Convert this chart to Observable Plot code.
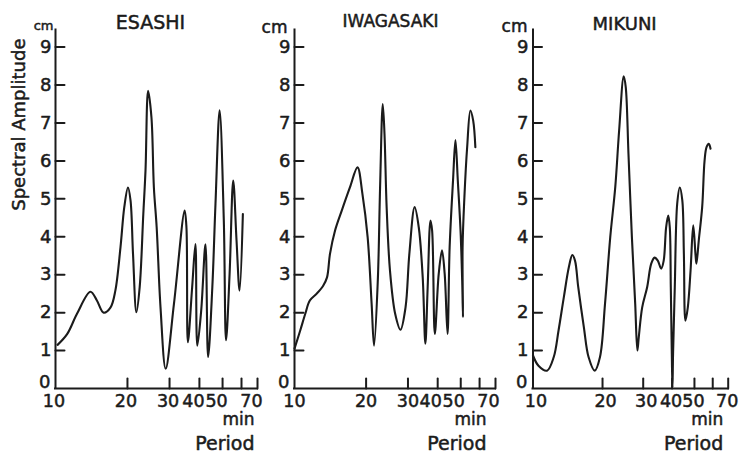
<!DOCTYPE html>
<html><head><meta charset="utf-8">
<script src="https://cdn.jsdelivr.net/npm/d3@7"></script>
<script src="https://cdn.jsdelivr.net/npm/@observablehq/plot@0.6"></script>
<style>
html,body{margin:0;padding:0;background:#fff;}
#chart{position:relative;width:739px;height:454px;overflow:hidden;background:#fff;}
#chart svg{position:absolute;top:0;}
</style></head><body><div id="chart"></div>
<script>
// ---- data (period in min, spectral amplitude in cm) ----
const stations = ["ESASHI", "IWAGASAKI", "MIKUNI"];

const esashiPeriod = [10.2,11.2,12.3,14.0,14.9,15.9,17.0,17.8,18.7,19.4,20.1,20.6,21.1,21.8,22.5,23.3,23.8,24.4,25.2,25.8,26.5,27.5,28.9,31.3,34.7,35.3,35.8,37.3,38.5,39.2,40.7,42.4,43.5,45.3,46.7,48.6,50.6,51.7,53.5,55.4,57.2,58.9,60.8];
const esashiAmp    = [1.15,1.44,1.97,2.55,2.32,2.0,2.14,2.58,3.72,4.78,5.3,4.96,3.55,2.01,2.67,4.6,5.75,7.85,7.15,5.3,4.25,2.14,0.52,2.23,4.69,4.25,1.22,2.67,3.81,1.13,2.06,3.8,0.83,2.67,4.87,7.33,4.43,1.27,3.02,5.48,3.9,2.58,4.6];

const iwagasakiPeriod = [10.0,10.57,11.1,11.6,12.4,13.2,13.7,14.1,14.8,15.8,17.1,18.4,19.3,20.3,21.1,21.6,22.4,22.9,23.5,23.9,24.4,25.2,26.5,27.9,29.3,30.4,32.0,33.3,34.6,35.5,36.3,37.3,37.9,38.9,40.4,41.7,42.8,44.0,44.9,46.4,47.5,48.6,49.9,50.7,51.1,50.9,51.8,53.2,54.9,56.4,57.6];
const iwagasakiAmp    = [1.05,1.53,1.97,2.32,2.5,2.71,2.93,3.55,4.16,4.69,5.3,5.83,5.13,3.99,2.23,1.13,2.85,5.3,7.5,6.71,4.78,3.11,1.97,1.55,2.14,3.55,4.78,4.25,2.93,1.18,2.67,4.43,4.16,1.44,3.02,3.64,3.02,1.44,3.72,5.48,6.55,5.48,4.16,2.85,1.88,3.72,5.04,6.36,7.33,7.06,6.36];

const mikuniPeriod = [10.0,10.56,11.5,12.3,12.9,13.6,14.3,14.8,15.2,15.7,16.6,17.4,18.5,19.5,20.5,21.6,22.7,23.6,24.7,25.2,25.9,26.8,27.7,28.3,28.7,29.7,31.2,32.5,33.6,34.7,35.9,36.8,37.7,38.5,39.1,39.5,39.9,40.15,40.4,41.1,42.1,43.2,44.3,45.0,45.7,46.8,48.1,49.4,50.5,51.0,52.2,54.0,55.3,56.4,57.7,58.7];
const mikuniAmp    = [0.87,0.6,0.47,0.83,1.53,2.41,3.2,3.52,3.37,2.67,1.62,0.83,0.47,0.83,2.23,3.99,5.3,6.8,8.23,7.95,6.19,3.99,2.23,1.0,1.35,2.14,2.67,3.29,3.45,3.37,3.16,3.37,4.25,4.56,4.25,2.67,0.91,0.02,0.91,2.67,4.87,5.3,4.96,3.55,1.79,2.14,3.11,4.3,3.55,3.29,3.9,4.78,6.0,6.36,6.45,6.32];

const xTicks = [20, 30, 40, 50, 60, 70];
const xLabelsA = [10, 20, 30];
const xLabelsB = [40, 50, 70];
const yTicks = [1, 2, 3, 4, 5, 6, 7, 8, 9];
const yLabels = [1, 2, 3, 4, 5, 6, 7, 8, 9];
const yZero = [0];
const yTitle = "Spectral Amplitude";
const yUnit = "cm";
const xUnit = "min";
const xTitle = "Period";

const tables = [
  esashiPeriod.map((p, i) => ({period: p, amp: esashiAmp[i]})),
  iwagasakiPeriod.map((p, i) => ({period: p, amp: iwagasakiAmp[i]})),
  mikuniPeriod.map((p, i) => ({period: p, amp: mikuniAmp[i]}))
];

// ---- layout ----
const layout = [
  {left: 0,   width: 270, ml: 55,   mr: 13,  tdx: -6,   tdy: -1.5, tsize: 19, tls: 1.2, cmSize: 13, cmDx: -2,   cmDy: 0,   cmLs: 0, yDx: -4,   xdA: -1.5, xdB: -6,  unitDx: -3},
  {left: 270, width: 235, ml: 24,   mr: 10,  tdx: -4.5, tdy: -3,   tsize: 17, tls: 2,   cmSize: 17, cmDx: -7,   cmDy: 2.5, cmLs: 2, yDx: -4,   xdA: 0,    xdB: -7,  unitDx: -9},
  {left: 505, width: 234, ml: 27.5, mr: 11.3,tdx: -6,   tdy: -0.5, tsize: 18, tls: 3,   cmSize: 17, cmDx: -5.5, cmDy: 1.5, cmLs: 2, yDx: -4.5, xdA: 3,    xdB: -1,  unitDx: -5}
];

const font = "DejaVu Sans";
const ink = "#1b1b1b";
const tw = 0.5; // slight stroke to mimic the heavier printed glyphs
const tickShape = {draw(ctx, l) { ctx.moveTo(0, 0); ctx.lineTo(0, -l); }};
const chart = document.getElementById("chart");
const T = (o) => ({fontFamily: font, fill: ink, stroke: ink, strokeWidth: tw, ...o});

stations.forEach((name, k) => {
  const L = layout[k];
  const marks = [
    Plot.ruleX([10], {stroke: ink, strokeWidth: 2, strokeLinecap: "square"}),
    Plot.ruleY([0], {stroke: ink, strokeWidth: 2, strokeLinecap: "square"}),
    Plot.vector(xTicks, {x: d => d, y: 0, length: 10, anchor: "start", shape: tickShape, stroke: ink, strokeWidth: 2}),
    Plot.vector(yTicks, {x: 10, y: d => d, length: 9, rotate: 90, anchor: "start", shape: tickShape, stroke: ink, strokeWidth: 2}),
    Plot.text(yLabels, T({x: 10, y: d => d, text: d => String(d), textAnchor: "end", lineAnchor: "middle", dx: L.yDx, fontSize: 18})),
    Plot.text(yZero, T({x: 10, y: d => d, text: d => String(d), textAnchor: "end", lineAnchor: "middle", dx: L.yDx - 1, dy: -6, fontSize: 18})),
    Plot.text(xLabelsA, T({x: d => d, y: 0, text: d => String(d), lineAnchor: "top", dy: 6, dx: L.xdA, fontSize: 17.5})),
    Plot.text(xLabelsB, T({x: d => d, y: 0, text: d => String(d), lineAnchor: "top", dy: 6, dx: L.xdB, fontSize: 17.5})),
    Plot.text([name], T({frameAnchor: "top", lineAnchor: "bottom", dx: L.tdx, dy: L.tdy, fontSize: L.tsize, ariaLabel: "title"})),
    Plot.text([yUnit], T({frameAnchor: "top-left", textAnchor: "end", lineAnchor: "bottom", dx: L.cmDx, dy: L.cmDy, fontSize: L.cmSize, ariaLabel: "unit"})),
    Plot.text([xUnit], T({frameAnchor: "bottom-right", textAnchor: "end", lineAnchor: "bottom", dx: L.unitDx, dy: 36, fontSize: 17, ariaLabel: "xunit"})),
    Plot.text([xTitle], T({frameAnchor: "bottom-right", textAnchor: "end", lineAnchor: "bottom", dx: L.unitDx, dy: 61, fontSize: 19, ariaLabel: "xtitle"})),
    Plot.line(tables[k], {x: "period", y: "amp", curve: "catmull-rom", stroke: ink, strokeWidth: 2.1, strokeLinejoin: "round"})
  ];
  if (k === 0) {
    marks.push(Plot.text([yTitle], T({frameAnchor: "top-left", rotate: -90, textAnchor: "end", lineAnchor: "middle", dx: -36, dy: 8.5, fontSize: 18, ariaLabel: "ytitle"})));
  }
  const svg = Plot.plot({
    width: L.width,
    height: 454,
    marginLeft: L.ml,
    marginRight: L.mr,
    marginTop: 29.5,
    marginBottom: 66,
    x: {type: "log", domain: [10, 70], axis: null},
    y: {domain: [0, 9.45], axis: null},
    style: "background:transparent;overflow:visible;",
    marks
  });
  svg.style.left = L.left + "px";
  const s = d3.select(svg);
  s.selectAll('g[aria-label="title"]').style("letter-spacing", L.tls + "px");
  s.selectAll('g[aria-label="unit"]').style("letter-spacing", L.cmLs + "px");
  s.selectAll('g[aria-label="xtitle"]').style("letter-spacing", "1.2px");
  s.selectAll('g[aria-label="ytitle"]').style("letter-spacing", "2.3px");
  chart.appendChild(svg);
});
</script></body></html>
